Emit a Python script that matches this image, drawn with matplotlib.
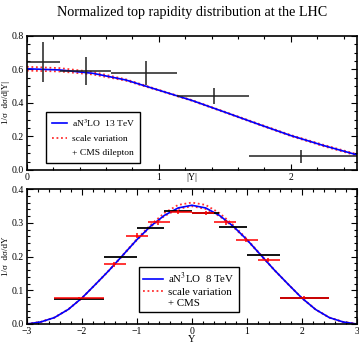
import numpy as np
import matplotlib
matplotlib.use('Agg')
import matplotlib.pyplot as plt
from matplotlib.lines import Line2D
from matplotlib.ticker import MultipleLocator

plt.rcParams['font.family'] = ['Liberation Serif', 'DejaVu Serif']
plt.rcParams['mathtext.fontset'] = 'stix'

# 13 TeV, |Y|
y13 = [0.0, 0.25, 0.5, 0.75, 1.0, 1.25, 1.5, 1.75, 2.0, 2.25, 2.5]
th13 = [0.604, 0.597, 0.577, 0.537, 0.476, 0.415, 0.345, 0.274, 0.205, 0.145, 0.090]
th13_up = [0.616, 0.608, 0.585, 0.541, 0.478, 0.417, 0.347, 0.277, 0.208, 0.149, 0.094]
th13_dn = [0.593, 0.588, 0.570, 0.533, 0.474, 0.413, 0.343, 0.272, 0.202, 0.141, 0.086]

# CMS dilepton 13 TeV
cms13_lo = [0.0, 0.25, 0.64, 1.14, 1.68]
cms13_hi = [0.25, 0.64, 1.14, 1.68, 2.5]
cms13_x = [0.12, 0.45, 0.9, 1.42, 2.08]
cms13_val = [0.644, 0.592, 0.578, 0.442, 0.082]
cms13_err = [0.12, 0.082, 0.07, 0.05, 0.038]

# 8 TeV, Y
y8 = [-3.0, -2.75, -2.5, -2.25, -2.0, -1.75, -1.5, -1.25, -1.0, -0.75, -0.5, -0.25,
      0.0, 0.25, 0.5, 0.75, 1.0, 1.25, 1.5, 1.75, 2.0, 2.25, 2.5, 2.75, 3.0]
th8 = [0.0, 0.006, 0.019, 0.043, 0.077, 0.118, 0.160, 0.205, 0.250, 0.290, 0.322, 0.344,
       0.352, 0.344, 0.322, 0.290, 0.250, 0.205, 0.160, 0.118, 0.077, 0.043, 0.019, 0.006, 0.0]
th8_up = [0.0, 0.006, 0.019, 0.043, 0.077, 0.118, 0.160, 0.206, 0.252, 0.294, 0.329, 0.353,
          0.360, 0.353, 0.329, 0.294, 0.252, 0.206, 0.160, 0.118, 0.077, 0.043, 0.019, 0.006, 0.0]
th8_dn = [0.0, 0.006, 0.019, 0.043, 0.077, 0.118, 0.160, 0.204, 0.249, 0.288, 0.320, 0.341,
          0.349, 0.341, 0.320, 0.288, 0.249, 0.204, 0.160, 0.118, 0.077, 0.043, 0.019, 0.006, 0.0]

# CMS 8 TeV (black)
cmsA_lo = [-2.5, -1.6, -1.0, -0.5, 0.0, 0.5, 1.0, 1.6]
cmsA_hi = [-1.6, -1.0, -0.5, 0.0, 0.5, 1.0, 1.6, 2.5]
cmsA_val = [0.075, 0.198, 0.284, 0.336, 0.330, 0.287, 0.205, 0.077]

# CMS 8 TeV (red)
cmsB_lo = [-2.5, -1.6, -1.2, -0.8, -0.4, 0.0, 0.4, 0.8, 1.2, 1.6]
cmsB_hi = [-1.6, -1.2, -0.8, -0.4, 0.0, 0.4, 0.8, 1.2, 1.6, 2.5]
cmsB_x = [-2.05, -1.41, -1.0, -0.62, -0.26, 0.26, 0.62, 0.99, 1.38, 2.03]
cmsB_val = [0.077, 0.177, 0.262, 0.301, 0.333, 0.330, 0.301, 0.249, 0.190, 0.078]
cmsB_err = [0.004, 0.007, 0.007, 0.007, 0.006, 0.006, 0.007, 0.007, 0.007, 0.004]

fig = plt.figure(figsize=(3.59, 3.46), dpi=100)
ax1 = fig.add_axes([0.075, 0.509, 0.919, 0.387])
ax2 = fig.add_axes([0.075, 0.0636, 0.919, 0.390])

fig.text(0.535, 0.964, 'Normalized top rapidity distribution at the LHC',
         ha='center', va='center', fontsize=10.2)

# top panel
ax1.plot(y13, th13_up, color='#ff3030', ls=(0, (1, 1.5)), lw=1.3)
ax1.plot(y13, th13_dn, color='#ff3030', ls=(0, (1, 1.5)), lw=1.3)
ax1.plot(y13, th13, color='#0000ff', lw=1.2)
xl = np.array(cms13_x) - np.array(cms13_lo)
xh = np.array(cms13_hi) - np.array(cms13_x)
ax1.errorbar(cms13_x, cms13_val, xerr=[xl, xh], yerr=cms13_err, fmt='none',
             ecolor='#202020', elinewidth=1.1, capsize=0)
ax1.set_xlim(0, 2.5)
ax1.set_ylim(0, 0.8)
ax1.xaxis.set_major_locator(MultipleLocator(1))
ax1.xaxis.set_minor_locator(MultipleLocator(0.2))
ax1.yaxis.set_major_locator(MultipleLocator(0.2))
ax1.yaxis.set_minor_locator(MultipleLocator(0.05))
ax1.set_ylabel('1/σ  dσ/d|Y|', fontsize=6.5, labelpad=1)
ax1.text(1.25, -0.055, '|Y|', transform=ax1.get_xaxis_transform(),
         ha='center', va='center', fontsize=7)

h1 = [Line2D([], [], color='#0000ff', lw=1.2),
      Line2D([], [], color='#ff3030', ls=(0, (1, 1.5)), lw=1.3),
      Line2D([], [], ls='none')]
ax1.legend(h1, ['aN$^3$LO  13 TeV', 'scale variation', '+ CMS dilepton'],
           loc='lower left', bbox_to_anchor=(0.058, 0.052), fontsize=6.8,
           fancybox=False, edgecolor='black', framealpha=1, borderpad=0.6,
           handlelength=1.6, handletextpad=0.5, labelspacing=0.6, borderaxespad=0)

# bottom panel
ax2.plot(y8, th8_up, color='#ff3030', ls=(0, (1, 1.5)), lw=1.3)
ax2.plot(y8, th8_dn, color='#ff3030', ls=(0, (1, 1.5)), lw=1.3)
ax2.plot(y8, th8, color='#0000ff', lw=1.2)
ca = (np.array(cmsA_lo) + np.array(cmsA_hi)) / 2
ax2.errorbar(ca, cmsA_val, xerr=(np.array(cmsA_hi) - np.array(cmsA_lo)) / 2,
             fmt='none', ecolor='black', elinewidth=1.3, capsize=0)
bl = np.array(cmsB_x) - np.array(cmsB_lo)
bh = np.array(cmsB_hi) - np.array(cmsB_x)
ax2.errorbar(cmsB_x, cmsB_val, xerr=[bl, bh], yerr=cmsB_err, fmt='none',
             ecolor='#ff0000', elinewidth=1.3, capsize=0, alpha=0.85)
ax2.set_xlim(-3, 3)
ax2.set_ylim(0, 0.4)
ax2.xaxis.set_major_locator(MultipleLocator(1))
ax2.xaxis.set_minor_locator(MultipleLocator(0.2))
ax2.yaxis.set_major_locator(MultipleLocator(0.1))
ax2.yaxis.set_minor_locator(MultipleLocator(0.02))
ax2.set_ylabel('1/σ  dσ/dY', fontsize=6.5, labelpad=1)
ax2.set_xlabel('Y', fontsize=7.5, labelpad=-1)

h2 = [Line2D([], [], color='#0000ff', lw=1.2),
      Line2D([], [], color='#ff3030', ls=(0, (1, 1.5)), lw=1.3),
      Line2D([], [], ls='none')]
ax2.legend(h2, ['aN$^3$LO  8 TeV', 'scale variation', '+ CMS'],
           loc='lower left', bbox_to_anchor=(0.34, 0.089), fontsize=7.8,
           fancybox=False, edgecolor='black', framealpha=1, borderpad=0.4,
           handlelength=1.8, handletextpad=0.5, labelspacing=0.1, borderaxespad=0)

for ax in (ax1, ax2):
    for s in ax.spines.values():
        s.set_linewidth(1.2)
    ax.tick_params(which='both', direction='in', top=True, right=True,
                   labelsize=7, pad=1.5, width=0.8)
    ax.tick_params(which='major', length=4)
    ax.tick_params(which='minor', length=2)
    ax.tick_params(axis='x', pad=2.5)
    ax.tick_params(axis='y', pad=2)

fig.savefig('out.png', dpi=100)
